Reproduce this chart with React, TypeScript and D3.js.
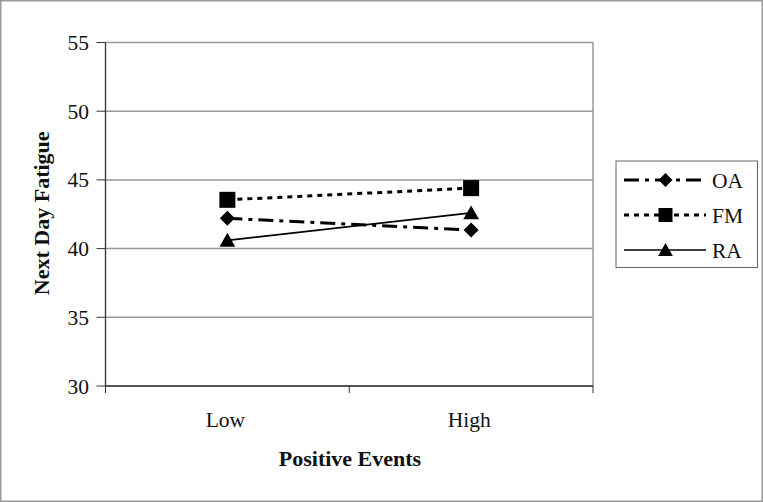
import React from "react";
import * as d3 from "d3";

const categories = ["Low", "High"];
const yTicks = [30, 35, 40, 45, 50, 55];
const seriesNames = ["OA", "FM", "RA"];
const oaValues = [42.2, 41.35];
const fmValues = [43.55, 44.4];
const raValues = [40.6, 42.6];

const W = 763;
const H = 502;
const plot = { left: 105.5, right: 593, top: 42.5, bottom: 386 };

const styles: Record<string, { dash: string; width: number; marker: string }> = {
  OA: { dash: "15,6,4,6", width: 3, marker: "diamond" },
  FM: { dash: "5,5", width: 3, marker: "square" },
  RA: { dash: "", width: 1.6, marker: "triangle" },
};

function Marker({ type, x, y, s }: { type: string; x: number; y: number; s: number }) {
  if (type === "diamond") {
    const h = s / 2;
    return <path d={`M${x},${y - h}L${x + h},${y}L${x},${y + h}L${x - h},${y}Z`} fill="#000" />;
  }
  if (type === "square") {
    const h = s / 2;
    return <rect x={x - h} y={y - h} width={s} height={s} fill="#000" />;
  }
  const h = s / 2;
  return <path d={`M${x},${y - h}L${x + h * 1.05},${y + h * 0.85}L${x - h * 1.05},${y + h * 0.85}Z`} fill="#000" />;
}

export default function App() {
  const x = d3.scaleBand().domain(categories).range([plot.left, plot.right]).padding(0);
  const y = d3.scaleLinear().domain([30, 55]).range([plot.bottom, plot.top]);
  const cx = (c: string) => (x(c) as number) + x.bandwidth() / 2;
  const data: Record<string, number[]> = { OA: oaValues, FM: fmValues, RA: raValues };
  const line = d3.line<number>().x((_, i) => cx(categories[i])).y((v) => y(v));
  const font = "'Liberation Serif', 'Times New Roman', serif";
  const legY = [180, 215, 250];
  const fs = 21.5;
  const fsb = 22;

  return (
    <svg width={W} height={H} style={{ position: "absolute", left: 0, top: 0 }} fontFamily={font}>
      <rect x={0} y={0} width={W} height={H} fill="#fff" />
      <rect x={0.75} y={0.75} width={W - 1.5} height={H - 1.5} fill="none" stroke="#999" strokeWidth={1.5} />
      {yTicks.map((t) => (
        <line key={t} x1={plot.left} x2={plot.right} y1={y(t)} y2={y(t)} stroke="#999" strokeWidth={1.5} />
      ))}
      <line x1={plot.right} x2={plot.right} y1={plot.top} y2={plot.bottom} stroke="#999" strokeWidth={1.5} />
      <line x1={plot.left} x2={plot.left} y1={plot.top} y2={plot.bottom} stroke="#333" strokeWidth={1.3} />
      <line x1={plot.left} x2={plot.right} y1={plot.bottom} y2={plot.bottom} stroke="#333" strokeWidth={1.3} />
      {yTicks.map((t) => (
        <g key={t}>
          <line x1={plot.left - 9} x2={plot.left} y1={y(t)} y2={y(t)} stroke="#333" strokeWidth={1} />
          <text x={89} y={y(t)} dy="0.35em" textAnchor="end" fontSize={fs} fill="#111">
            {t}
          </text>
        </g>
      ))}
      {[plot.left, (plot.left + plot.right) / 2, plot.right].map((xx, i) => (
        <line key={i} x1={xx} x2={xx} y1={plot.bottom} y2={plot.bottom + 7} stroke="#333" strokeWidth={1} />
      ))}
      {categories.map((c) => (
        <text key={c} x={cx(c) - 2} y={427} textAnchor="middle" fontSize={fs} fill="#111">
          {c}
        </text>
      ))}
      <text x={350} y={466} textAnchor="middle" fontSize={fsb} fontWeight="bold" fill="#111">
        Positive Events
      </text>
      <text
        transform={`translate(49,${(plot.top + plot.bottom) / 2 - 1}) rotate(-90)`}
        textAnchor="middle"
        fontSize={fsb}
        fontWeight="bold"
        fill="#111"
      >
        Next Day Fatigue
      </text>
      {seriesNames.map((n) => (
        <g key={n}>
          <path
            d={line(data[n]) as string}
            fill="none"
            stroke="#000"
            strokeWidth={styles[n].width}
            strokeDasharray={styles[n].dash || undefined}
          />
          {data[n].map((v, i) => (
            <Marker key={i} type={styles[n].marker} x={cx(categories[i])} y={y(v)} s={n === "FM" ? 16 : 15} />
          ))}
        </g>
      ))}
      <rect x={616} y={161} width={141.5} height={106.5} fill="#fff" stroke="#666" strokeWidth={1} />
      {seriesNames.map((n, i) => (
        <g key={n}>
          <line
            x1={624}
            x2={706}
            y1={legY[i]}
            y2={legY[i]}
            stroke="#000"
            strokeWidth={styles[n].width}
            strokeDasharray={styles[n].dash || undefined}
          />
          <Marker type={styles[n].marker} x={665.5} y={legY[i]} s={14} />
          <text x={712} y={legY[i]} dy="0.35em" fontSize={fs} fill="#111">
            {n}
          </text>
        </g>
      ))}
    </svg>
  );
}
